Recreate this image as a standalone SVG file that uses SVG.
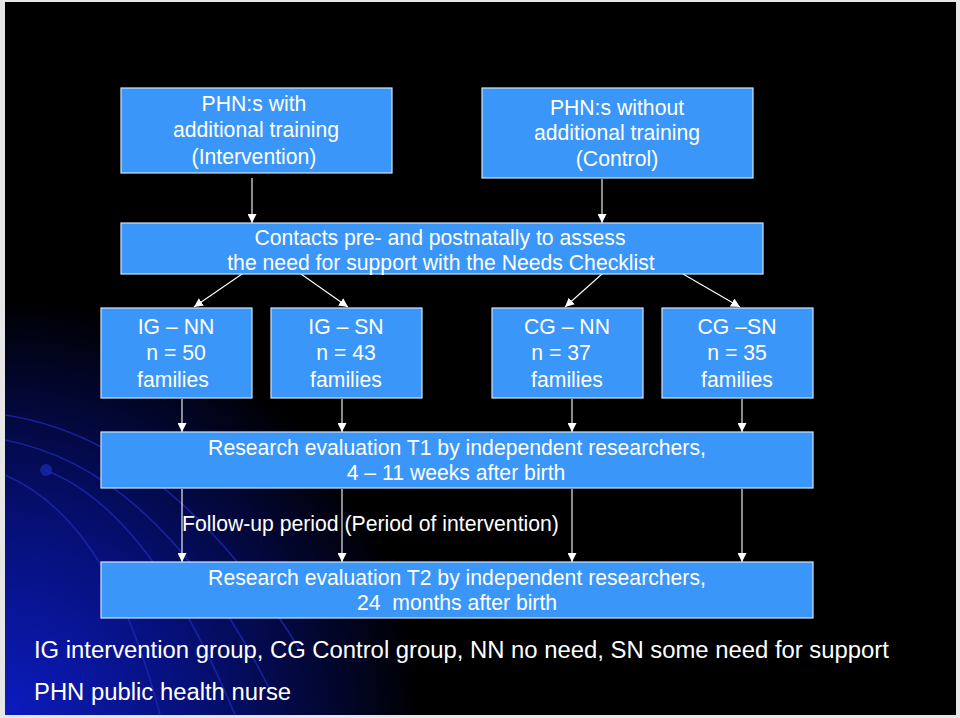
<svg xmlns="http://www.w3.org/2000/svg" width="960" height="718" viewBox="0 0 960 718">
<defs>
<radialGradient id="bg" cx="0" cy="718" r="420" gradientUnits="userSpaceOnUse">
<stop offset="0" stop-color="#0c1cc0"/>
<stop offset="0.45" stop-color="#06107a"/>
<stop offset="1" stop-color="#000000"/>
</radialGradient>
<marker id="ah" viewBox="0 0 10 10" refX="10" refY="5" markerWidth="9" markerHeight="9" markerUnits="userSpaceOnUse" orient="auto">
<path d="M0,0 L10,5 L0,10 Z" fill="#ffffff"/>
</marker>
<style>
.box{fill:#3a96f8;stroke:#cfe4fa;stroke-width:1.2}
.t{font-family:"Liberation Sans",Arial,sans-serif;font-size:21.2px;fill:#ffffff;text-anchor:middle}
.lbl{font-family:"Liberation Sans",Arial,sans-serif;font-size:21.2px;fill:#ffffff}
.foot{font-family:"Liberation Sans",Arial,sans-serif;font-size:23.85px;fill:#ffffff}
.c{stroke:#ffffff;stroke-width:1.1;fill:none;marker-end:url(#ah)}
.arc{stroke:#1c28b0;stroke-width:1.6;fill:none;opacity:0.8}
</style>
</defs>
<rect x="0" y="0" width="960" height="718" fill="#e6e6e6"/>
<rect x="5" y="2" width="951" height="713" fill="#000000"/>
<rect x="5" y="2" width="951" height="713" fill="url(#bg)"/>
<g id="background-arcs">
<path class="arc" d="M5 415 Q170 440 300 650"/>
<path class="arc" d="M5 440 Q160 470 270 690"/>
<path class="arc" d="M45 470 Q150 510 235 715"/>
<path class="arc" d="M5 475 Q110 520 160 715"/>
<circle cx="46" cy="470" r="6" fill="#1a2ab0" opacity="0.7"/>
</g>
<g id="connectors">
<line class="c" x1="252" y1="178" x2="252" y2="223"/>
<line class="c" x1="602" y1="179" x2="602" y2="223"/>
<line class="c" x1="242" y1="274" x2="194" y2="307"/>
<line class="c" x1="301" y1="274" x2="348" y2="307"/>
<line class="c" x1="602" y1="274" x2="565" y2="307"/>
<line class="c" x1="683" y1="274" x2="740" y2="307"/>
<line class="c" x1="182" y1="399" x2="182" y2="432"/>
<line class="c" x1="342" y1="399" x2="342" y2="432"/>
<line class="c" x1="572" y1="399" x2="572" y2="432"/>
<line class="c" x1="742" y1="399" x2="742" y2="432"/>
<line class="c" x1="182" y1="489" x2="182" y2="562"/>
<line class="c" x1="342" y1="489" x2="342" y2="562"/>
<line class="c" x1="572" y1="489" x2="572" y2="562"/>
<line class="c" x1="742" y1="489" x2="742" y2="562"/>
</g>
<g id="phn-with">
<rect class="box" x="121" y="88" width="271" height="85"/>
<text class="t" x="254" y="111">PHN:s with</text>
<text class="t" x="256" y="137">additional training</text>
<text class="t" x="254" y="164">(Intervention)</text>
</g>
<g id="phn-without">
<rect class="box" x="482" y="88" width="271" height="90"/>
<text class="t" x="617" y="115">PHN:s without</text>
<text class="t" x="617" y="140">additional training</text>
<text class="t" x="617" y="166">(Control)</text>
</g>
<g id="contacts">
<rect class="box" x="121" y="223" width="642" height="51"/>
<text class="t" x="440" y="245">Contacts pre- and postnatally to assess</text>
<text class="t" x="441" y="270">the need for support with the Needs Checklist</text>
</g>
<g id="ig-nn">
<rect class="box" x="101" y="308" width="151" height="90"/>
<text class="t" x="176" y="334">IG – NN</text>
<text class="t" x="176" y="360">n = 50</text>
<text class="t" x="173" y="387">families</text>
</g>
<g id="ig-sn">
<rect class="box" x="271" y="308" width="151" height="90"/>
<text class="t" x="346" y="334">IG – SN</text>
<text class="t" x="346" y="360">n = 43</text>
<text class="t" x="346" y="387">families</text>
</g>
<g id="cg-nn">
<rect class="box" x="492" y="308" width="151" height="90"/>
<text class="t" x="567" y="334">CG – NN</text>
<text class="t" x="561" y="360">n = 37</text>
<text class="t" x="567" y="387">families</text>
</g>
<g id="cg-sn">
<rect class="box" x="662" y="308" width="151" height="90"/>
<text class="t" x="737" y="334">CG –SN</text>
<text class="t" x="737" y="360">n = 35</text>
<text class="t" x="737" y="387">families</text>
</g>
<g id="t1">
<rect class="box" x="101" y="432" width="712" height="56"/>
<text class="t" x="457" y="455">Research evaluation T1 by independent researchers,</text>
<text class="t" x="456" y="480">4 – 11 weeks after birth</text>
</g>
<text class="lbl" x="182" y="531">Follow-up period (Period of intervention)</text>
<g id="t2">
<rect class="box" x="101" y="562" width="712" height="56"/>
<text class="t" x="457" y="585">Research evaluation T2 by independent researchers,</text>
<text class="t" x="457" y="610">24&#160; months after birth</text>
</g>
<text class="foot" x="34" y="658">IG intervention group, CG Control group, NN no need, SN some need for support</text>
<text class="foot" x="34" y="700">PHN public health nurse</text>
</svg>
